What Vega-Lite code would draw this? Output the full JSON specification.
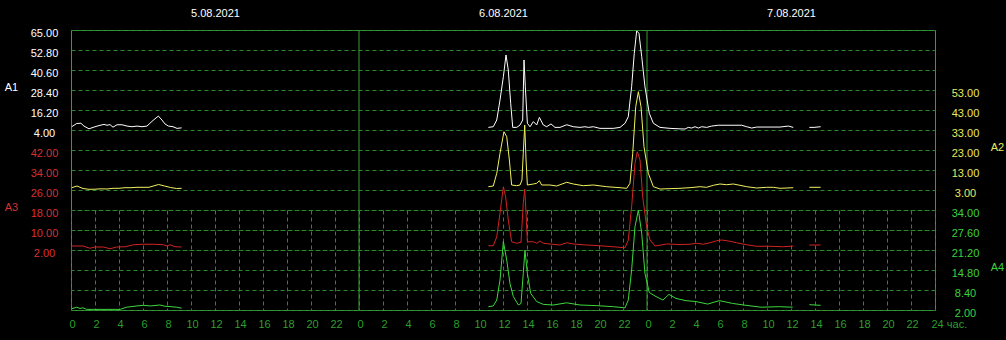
{
  "$schema": "https://vega.github.io/schema/vega-lite/v6.json",
  "width": 864,
  "height": 280,
  "autosize": {"type": "none"},
  "padding": {"left": 71, "top": 30, "right": 71, "bottom": 30},
  "background": "#000000",
  "config": {
    "view": {"stroke": "#3a9a3a", "strokeWidth": 1},
    "font": "Liberation Sans",
    "axis": {
      "labelFont": "Liberation Sans", "labelFontSize": 11,
      "titleFont": "Liberation Sans", "titleFontSize": 11, "titleFontWeight": "normal",
      "domain": false, "ticks": false, "tickSize": 0,
      "gridColor": "#2b882b", "gridDash": [4, 3], "gridOpacity": 1, "gridWidth": 1,
      "labelFlush": false, "labelOverlap": false
    }
  },
  "datasets": {
    "a1": [
      {"h":0.06,"v":6.0,"s":1},{"h":0.48,"v":8.0,"s":1},{"h":0.83,"v":8.1,"s":1},{"h":1.08,"v":6.4,"s":1},{"h":1.5,"v":4.7,"s":1},{"h":1.92,"v":5.8,"s":1},{"h":2.33,"v":6.7,"s":1},{"h":2.75,"v":7.4,"s":1},{"h":3.0,"v":6.9,"s":1},{"h":3.25,"v":7.3,"s":1},{"h":3.5,"v":5.7,"s":1},{"h":3.83,"v":7.2,"s":1},{"h":4.25,"v":7.2,"s":1},{"h":4.67,"v":6.4,"s":1},{"h":5.08,"v":6.0,"s":1},{"h":5.5,"v":6.4,"s":1},{"h":5.92,"v":6.0,"s":1},{"h":6.33,"v":6.4,"s":1},{"h":6.58,"v":8.1,"s":1},{"h":6.83,"v":9.8,"s":1},{"h":7.28,"v":12.5,"s":1},{"h":7.58,"v":10.1,"s":1},{"h":7.83,"v":7.7,"s":1},{"h":8.12,"v":6.4,"s":1},{"h":8.5,"v":6.0,"s":1},{"h":8.83,"v":5.0,"s":1},{"h":9.22,"v":5.3,"s":1},
      {"h":34.78,"v":5.6,"s":2},{"h":35.19,"v":6.0,"s":2},{"h":35.48,"v":10.1,"s":2},{"h":35.75,"v":22.3,"s":2},{"h":36.03,"v":36.5,"s":2},{"h":36.25,"v":49.75,"s":2},{"h":36.44,"v":40.6,"s":2},{"h":36.64,"v":20.3,"s":2},{"h":36.81,"v":5.6,"s":2},{"h":37.14,"v":5.6,"s":2},{"h":37.42,"v":7.05,"s":2},{"h":37.64,"v":10.1,"s":2},{"h":37.75,"v":46.7,"s":2},{"h":37.86,"v":30.4,"s":2},{"h":38.03,"v":8.1,"s":2},{"h":38.25,"v":6.0,"s":2},{"h":38.53,"v":9.1,"s":2},{"h":38.81,"v":7.05,"s":2},{"h":39.03,"v":11.7,"s":2},{"h":39.36,"v":7.05,"s":2},{"h":39.64,"v":6.0,"s":2},{"h":40.0,"v":7.7,"s":2},{"h":40.33,"v":5.6,"s":2},{"h":40.75,"v":5.6,"s":2},{"h":41.31,"v":7.2,"s":2},{"h":41.86,"v":6.0,"s":2},{"h":42.42,"v":5.6,"s":2},{"h":42.83,"v":6.0,"s":2},{"h":43.11,"v":5.6,"s":2},{"h":43.53,"v":6.0,"s":2},{"h":44.08,"v":5.0,"s":2},{"h":45.19,"v":5.0,"s":2},{"h":45.75,"v":5.6,"s":2},{"h":46.17,"v":8.1,"s":2},{"h":46.44,"v":12.1,"s":2},{"h":46.72,"v":30.4,"s":2},{"h":46.94,"v":50.8,"s":2},{"h":47.14,"v":64.4,"s":2},{"h":47.33,"v":63.0,"s":2},{"h":47.56,"v":48.7,"s":2},{"h":47.83,"v":30.4,"s":2},{"h":48.19,"v":14.2,"s":2},{"h":48.53,"v":8.1,"s":2},{"h":49.08,"v":5.6,"s":2},{"h":49.92,"v":5.0,"s":2},{"h":50.75,"v":4.7,"s":2},{"h":51.17,"v":4.6,"s":2},{"h":51.44,"v":5.6,"s":2},{"h":51.72,"v":5.2,"s":2},{"h":52.0,"v":6.0,"s":2},{"h":52.28,"v":5.2,"s":2},{"h":52.56,"v":6.0,"s":2},{"h":52.97,"v":5.6,"s":2},{"h":53.39,"v":6.4,"s":2},{"h":53.94,"v":6.9,"s":2},{"h":55.89,"v":6.9,"s":2},{"h":56.31,"v":6.0,"s":2},{"h":56.72,"v":5.2,"s":2},{"h":57.14,"v":5.8,"s":2},{"h":59.08,"v":5.8,"s":2},{"h":59.78,"v":6.4,"s":2},{"h":60.19,"v":5.6,"s":2},
      {"h":61.53,"v":5.6,"s":3},{"h":61.92,"v":5.6,"s":3},{"h":62.47,"v":6.0,"s":3}
    ],
    "a2": [
      {"h":0.06,"v":4.15,"s":1},{"h":0.5,"v":5.0,"s":1},{"h":1.0,"v":3.75,"s":1},{"h":1.5,"v":3.35,"s":1},{"h":2.0,"v":3.4,"s":1},{"h":2.5,"v":3.6,"s":1},{"h":3.0,"v":3.5,"s":1},{"h":3.5,"v":3.85,"s":1},{"h":4.0,"v":3.85,"s":1},{"h":4.5,"v":4.15,"s":1},{"h":5.0,"v":4.15,"s":1},{"h":5.5,"v":4.35,"s":1},{"h":6.0,"v":4.35,"s":1},{"h":6.5,"v":4.35,"s":1},{"h":7.0,"v":5.25,"s":1},{"h":7.3,"v":5.75,"s":1},{"h":7.8,"v":5.0,"s":1},{"h":8.3,"v":4.25,"s":1},{"h":8.8,"v":3.75,"s":1},{"h":9.22,"v":3.85,"s":1},
      {"h":34.78,"v":4.65,"s":2},{"h":35.19,"v":5.0,"s":2},{"h":35.48,"v":11.35,"s":2},{"h":35.75,"v":21.35,"s":2},{"h":36.08,"v":32.15,"s":2},{"h":36.31,"v":29.65,"s":2},{"h":36.53,"v":18.0,"s":2},{"h":36.72,"v":5.5,"s":2},{"h":37.14,"v":5.15,"s":2},{"h":37.42,"v":5.5,"s":2},{"h":37.58,"v":8.0,"s":2},{"h":37.69,"v":21.35,"s":2},{"h":37.81,"v":35.5,"s":2},{"h":37.92,"v":18.0,"s":2},{"h":38.03,"v":5.5,"s":2},{"h":38.53,"v":6.0,"s":2},{"h":38.81,"v":6.35,"s":2},{"h":39.03,"v":7.65,"s":2},{"h":39.22,"v":5.5,"s":2},{"h":39.92,"v":5.5,"s":2},{"h":40.47,"v":5.0,"s":2},{"h":41.31,"v":6.85,"s":2},{"h":41.86,"v":6.0,"s":2},{"h":42.69,"v":5.15,"s":2},{"h":43.53,"v":5.5,"s":2},{"h":44.64,"v":4.65,"s":2},{"h":45.75,"v":4.15,"s":2},{"h":46.31,"v":3.85,"s":2},{"h":46.58,"v":6.35,"s":2},{"h":46.81,"v":21.35,"s":2},{"h":47.06,"v":44.65,"s":2},{"h":47.28,"v":52.15,"s":2},{"h":47.5,"v":44.65,"s":2},{"h":47.75,"v":24.65,"s":2},{"h":48.11,"v":11.35,"s":2},{"h":48.53,"v":4.65,"s":2},{"h":49.08,"v":3.5,"s":2},{"h":50.75,"v":3.85,"s":2},{"h":51.58,"v":4.15,"s":2},{"h":52.42,"v":4.65,"s":2},{"h":52.97,"v":4.35,"s":2},{"h":53.53,"v":5.35,"s":2},{"h":54.08,"v":6.0,"s":2},{"h":54.64,"v":5.65,"s":2},{"h":55.19,"v":6.0,"s":2},{"h":55.75,"v":5.35,"s":2},{"h":56.31,"v":4.65,"s":2},{"h":57.14,"v":4.0,"s":2},{"h":57.97,"v":4.35,"s":2},{"h":58.53,"v":4.35,"s":2},{"h":59.08,"v":3.85,"s":2},{"h":60.19,"v":4.15,"s":2},
      {"h":61.53,"v":4.35,"s":3},{"h":62.47,"v":4.35,"s":3}
    ],
    "a3": [
      {"h":0.06,"v":3.6,"s":1},{"h":1.0,"v":3.6,"s":1},{"h":1.58,"v":2.7,"s":1},{"h":2.0,"v":3.2,"s":1},{"h":2.7,"v":3.2,"s":1},{"h":3.25,"v":2.5,"s":1},{"h":3.8,"v":3.2,"s":1},{"h":4.5,"v":3.3,"s":1},{"h":5.2,"v":4.1,"s":1},{"h":6.0,"v":4.3,"s":1},{"h":6.9,"v":4.3,"s":1},{"h":7.7,"v":4.1,"s":1},{"h":8.0,"v":3.6,"s":1},{"h":8.25,"v":4.1,"s":1},{"h":8.67,"v":3.3,"s":1},{"h":9.22,"v":3.2,"s":1},
      {"h":34.78,"v":3.7,"s":2},{"h":35.19,"v":3.7,"s":2},{"h":35.48,"v":7.3,"s":2},{"h":35.75,"v":16.7,"s":2},{"h":36.03,"v":27.3,"s":2},{"h":36.22,"v":23.3,"s":2},{"h":36.44,"v":14.0,"s":2},{"h":36.72,"v":5.3,"s":2},{"h":37.14,"v":4.7,"s":2},{"h":37.5,"v":5.1,"s":2},{"h":37.69,"v":20.7,"s":2},{"h":37.81,"v":26.4,"s":2},{"h":37.92,"v":16.7,"s":2},{"h":38.03,"v":5.3,"s":2},{"h":38.53,"v":5.3,"s":2},{"h":38.81,"v":4.7,"s":2},{"h":39.08,"v":5.6,"s":2},{"h":39.36,"v":4.7,"s":2},{"h":39.92,"v":4.4,"s":2},{"h":40.75,"v":4.0,"s":2},{"h":41.31,"v":4.9,"s":2},{"h":41.86,"v":4.4,"s":2},{"h":42.97,"v":4.0,"s":2},{"h":44.08,"v":3.7,"s":2},{"h":45.19,"v":3.3,"s":2},{"h":46.17,"v":2.9,"s":2},{"h":46.44,"v":6.0,"s":2},{"h":46.72,"v":19.3,"s":2},{"h":47.0,"v":36.7,"s":2},{"h":47.19,"v":41.3,"s":2},{"h":47.42,"v":38.0,"s":2},{"h":47.64,"v":23.3,"s":2},{"h":47.97,"v":11.3,"s":2},{"h":48.25,"v":6.0,"s":2},{"h":48.67,"v":3.6,"s":2},{"h":49.64,"v":4.4,"s":2},{"h":50.75,"v":4.2,"s":2},{"h":51.58,"v":4.3,"s":2},{"h":52.14,"v":4.7,"s":2},{"h":52.69,"v":4.3,"s":2},{"h":53.25,"v":4.9,"s":2},{"h":53.81,"v":5.7,"s":2},{"h":54.22,"v":6.0,"s":2},{"h":54.92,"v":5.5,"s":2},{"h":55.47,"v":4.9,"s":2},{"h":56.31,"v":4.1,"s":2},{"h":57.14,"v":3.5,"s":2},{"h":58.25,"v":3.5,"s":2},{"h":59.36,"v":3.3,"s":2},{"h":60.19,"v":3.6,"s":2},
      {"h":61.53,"v":4.0,"s":3},{"h":62.47,"v":4.0,"s":3}
    ],
    "a4": [
      {"h":0.06,"v":2.4,"s":1},{"h":0.48,"v":2.9,"s":1},{"h":0.75,"v":2.5,"s":1},{"h":1.0,"v":2.7,"s":1},{"h":1.3,"v":2.2,"s":1},{"h":1.9,"v":2.2,"s":1},{"h":4.1,"v":2.2,"s":1},{"h":4.64,"v":2.9,"s":1},{"h":5.5,"v":3.3,"s":1},{"h":6.03,"v":3.5,"s":1},{"h":6.6,"v":3.3,"s":1},{"h":7.4,"v":3.6,"s":1},{"h":7.83,"v":3.2,"s":1},{"h":8.25,"v":3.1,"s":1},{"h":8.8,"v":2.9,"s":1},{"h":9.22,"v":2.6,"s":1},
      {"h":34.78,"v":3.06,"s":2},{"h":35.19,"v":3.3,"s":2},{"h":35.48,"v":5.2,"s":2},{"h":35.75,"v":11.6,"s":2},{"h":36.03,"v":23.9,"s":2},{"h":36.31,"v":18.0,"s":2},{"h":36.58,"v":10.5,"s":2},{"h":36.86,"v":6.3,"s":2},{"h":37.28,"v":3.6,"s":2},{"h":37.5,"v":4.1,"s":2},{"h":37.69,"v":13.7,"s":2},{"h":37.83,"v":21.2,"s":2},{"h":38.03,"v":13.7,"s":2},{"h":38.31,"v":7.3,"s":2},{"h":38.81,"v":4.7,"s":2},{"h":39.36,"v":3.8,"s":2},{"h":40.19,"v":3.6,"s":2},{"h":41.31,"v":4.3,"s":2},{"h":42.42,"v":3.6,"s":2},{"h":43.81,"v":3.4,"s":2},{"h":45.19,"v":3.06,"s":2},{"h":46.17,"v":2.7,"s":2},{"h":46.44,"v":5.2,"s":2},{"h":46.72,"v":14.8,"s":2},{"h":47.0,"v":28.7,"s":2},{"h":47.28,"v":34.0,"s":2},{"h":47.56,"v":26.5,"s":2},{"h":47.83,"v":13.7,"s":2},{"h":48.19,"v":7.6,"s":2},{"h":48.75,"v":6.3,"s":2},{"h":49.33,"v":5.2,"s":2},{"h":49.83,"v":7.0,"s":2},{"h":50.42,"v":5.7,"s":2},{"h":51.25,"v":5.0,"s":2},{"h":52.08,"v":4.7,"s":2},{"h":53.06,"v":3.9,"s":2},{"h":54.03,"v":5.0,"s":2},{"h":55.14,"v":4.1,"s":2},{"h":56.25,"v":3.5,"s":2},{"h":57.5,"v":2.9,"s":2},{"h":59.03,"v":3.06,"s":2},{"h":60.14,"v":2.9,"s":2},
      {"h":61.53,"v":3.7,"s":3},{"h":62.47,"v":3.5,"s":3}
    ]
  },
  "layer": [
    {
      "data": {"values": [{"h": 24}, {"h": 48}]},
      "mark": {"type": "rule", "color": "#3a9a3a", "strokeWidth": 1},
      "encoding": {
        "x": {
          "field": "h", "type": "quantitative",
          "scale": {"domain": [0, 72], "nice": false, "zero": false},
          "axis": {
            "orient": "top", "values": [12, 36, 60],
            "labelExpr": "datum.value == 12 ? '5.08.2021' : datum.value == 36 ? '6.08.2021' : '7.08.2021'",
            "labelColor": "#ffffff", "labelPadding": 12, "grid": false, "title": null
          }
        }
      }
    },
    {
      "data": {"name": "a1"},
      "mark": {"type": "line", "color": "#ffffff", "strokeWidth": 1},
      "encoding": {
        "x": {
          "field": "h", "type": "quantitative",
          "scale": {"domain": [0, 72], "nice": false, "zero": false},
          "axis": {
            "orient": "bottom",
            "values": [0,2,4,6,8,10,12,14,16,18,20,22,24,26,28,30,32,34,36,38,40,42,44,46,48,50,52,54,56,58,60,62,64,66,68,70,72],
            "labelExpr": "datum.value == 72 ? '24 час.' : '' + (datum.value % 24)",
            "labelAlign": {"condition": {"test": "datum.value == 72", "value": "left"}, "value": "center"},
            "labelOffset": {"condition": {"test": "datum.value == 72", "value": -4}, "value": 1},
            "labelColor": "#2e9e2e", "labelPadding": 8, "grid": true, "title": null
          }
        },
        "y": {
          "field": "v", "type": "quantitative",
          "scale": {"domain": [4, 65], "range": [100, 0], "nice": false, "zero": false},
          "axis": {
            "orient": "left", "values": [4, 16.2, 28.4, 40.6, 52.8, 65], "format": ".2f",
            "labelColor": "#ffffff", "labelAlign": "center", "labelPadding": 27, "labelOffset": 3,
            "grid": true, "title": "A1", "titleColor": "#ffffff", "titleAngle": 0,
            "titleAlign": "center", "titleBaseline": "middle", "titleX": -60, "titleY": 57
          }
        },
        "detail": {"field": "s"}
      }
    },
    {
      "data": {"name": "a2"},
      "mark": {"type": "line", "color": "#f2f25e", "strokeWidth": 1},
      "encoding": {
        "x": {"field": "h", "type": "quantitative", "scale": {"domain": [0, 72], "nice": false, "zero": false}, "axis": null},
        "y": {
          "field": "v", "type": "quantitative",
          "scale": {"domain": [3, 53], "range": [160, 60], "nice": false, "zero": false},
          "axis": {
            "orient": "right", "values": [3, 13, 23, 33, 43, 53], "format": ".2f",
            "labelColor": "#e8e860", "labelAlign": "center", "labelPadding": 30, "labelOffset": 3,
            "grid": false, "title": "A2", "titleColor": "#e8e860", "titleAngle": 0,
            "titleAlign": "center", "titleBaseline": "middle", "titleX": 62, "titleY": 117
          }
        },
        "detail": {"field": "s"}
      }
    },
    {
      "data": {"name": "a3"},
      "mark": {"type": "line", "color": "#d02424", "strokeWidth": 1},
      "encoding": {
        "x": {"field": "h", "type": "quantitative", "scale": {"domain": [0, 72], "nice": false, "zero": false}, "axis": null},
        "y": {
          "field": "v", "type": "quantitative",
          "scale": {"domain": [2, 42], "range": [220, 120], "nice": false, "zero": false},
          "axis": {
            "orient": "left", "values": [2, 10, 18, 26, 34, 42], "format": ".2f",
            "labelColor": "#d83030", "labelAlign": "center", "labelPadding": 27, "labelOffset": 3,
            "grid": true, "title": "A3", "titleColor": "#d83030", "titleAngle": 0,
            "titleAlign": "center", "titleBaseline": "middle", "titleX": -60, "titleY": 177
          }
        },
        "detail": {"field": "s"}
      }
    },
    {
      "data": {"name": "a4"},
      "mark": {"type": "line", "color": "#3cd83c", "strokeWidth": 1},
      "encoding": {
        "x": {"field": "h", "type": "quantitative", "scale": {"domain": [0, 72], "nice": false, "zero": false}, "axis": null},
        "y": {
          "field": "v", "type": "quantitative",
          "scale": {"domain": [2, 34], "range": [280, 180], "nice": false, "zero": false},
          "axis": {
            "orient": "right", "values": [2, 8.4, 14.8, 21.2, 27.6, 34], "format": ".2f",
            "labelColor": "#3cd03c", "labelAlign": "center", "labelPadding": 30, "labelOffset": 3,
            "grid": true, "title": "A4", "titleColor": "#3cd03c", "titleAngle": 0,
            "titleAlign": "center", "titleBaseline": "middle", "titleX": 62, "titleY": 237
          }
        },
        "detail": {"field": "s"}
      }
    }
  ],
  "resolve": {"scale": {"x": "independent", "y": "independent"}}
}
